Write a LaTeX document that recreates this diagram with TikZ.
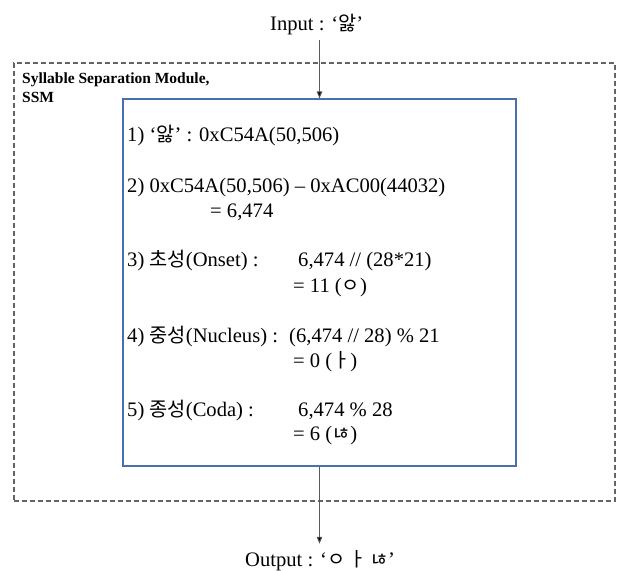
\documentclass[tikz,border=0pt]{standalone}
\usepackage{fontspec}
\setmainfont{Liberation Serif}
\newfontfamily\krfont[Scale=0.96]{Noto Sans CJK KR}
\newcommand{\ko}[1]{{\krfont #1}}
\usetikzlibrary{arrows.meta}
\definecolor{boxblue}{RGB}{74,110,178}
\definecolor{dashgray}{RGB}{100,100,100}
\definecolor{flowgray}{RGB}{90,90,90}

\begin{document}
\begin{tikzpicture}[x=1pt, y=-1pt,
  every node/.style={inner sep=0pt, font=\fontsize{20.6}{24}\selectfont},
  txt/.style={anchor=base west},
  title/.style={anchor=base west, font=\fontsize{15.5}{19}\selectfont\bfseries},
  flow/.style={draw=flowgray, line width=0.9pt, -{Triangle[length=7pt,width=5.5pt,fill=black]}}]
  \useasboundingbox (0,0) rectangle (626,570);
  % dashed module and the blue step box
  \def\colA{127}
  \def\colB{298}
  \def\colC{293}
  \node[draw=dashgray, line width=1.2pt, dash pattern=on 5pt off 3pt,
        minimum width=601pt, minimum height=438pt] (ssm) at (314.5,282) {};
  \node[draw=boxblue, line width=1.1pt, minimum width=393pt, minimum height=367pt] (box) at (319.5,282.5) {};
  \node[title] (ssmA) at (22,83) {Syllable Separation Module,};
  \node[title] (ssmB) at (22,102) {SSM};

  % input and output
  \node[txt] (input) at (270,30) {Input : ‘\ko{앓}’};
  \node[txt] (output) at (245,566) {Output : ‘\ko{ㅇ\,ㅏ\,ㄶ}’};
  \draw[flow, shorten <=5.5pt] (input.south -| box.north) -- (box.north);
  \draw[flow, shorten >=6pt] (box.south) -- (box.south |- output.north);

  % steps
  \node[txt] (s1) at (\colA,141) {1) ‘\ko{앓}’ : 0xC54A(50,506)};
  \node[txt] (s2) at (\colA,192) {2) 0xC54A(50,506) – 0xAC00(44032)};
  \node[txt] (s2r) at (210,217) {= 6,474};
  \node[txt] (s3) at (\colA,266) {3) \ko{초성}(Onset) :};
  \node[txt] (s3f) at (\colB,266) {6,474 // (28*21)};
  \node[txt] (s3r) at (\colC,292) {= 11 (\ko{ㅇ})};
  \node[txt] (s4) at (\colA,342) {4) \ko{중성}(Nucleus) :};
  \node[txt] (s4f) at (289,342) {(6,474 // 28) \% 21};
  \node[txt] (s4r) at (\colC,367) {= 0 (\ko{ㅏ})};
  \node[txt] (s5) at (\colA,416) {5) \ko{종성}(Coda) :};
  \node[txt] (s5f) at (\colB,416) {6,474 \% 28};
  \node[txt] (s5r) at (\colC,440) {= 6 (\ko{ㄶ})};
\end{tikzpicture}
\end{document}
